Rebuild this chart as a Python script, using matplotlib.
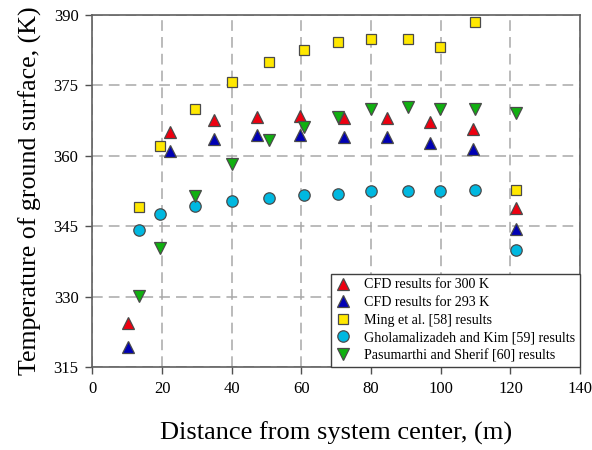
import matplotlib
matplotlib.use("Agg")
import matplotlib.pyplot as plt

# Data
x_cfd = [10.1, 22.4, 34.8, 47.3, 59.6, 72.2, 84.5, 97.0, 109.3, 121.6]
y_cfd300 = [324.4, 365.1, 367.6, 368.3, 368.5, 368.0, 368.1, 367.1, 365.6, 348.9]
y_cfd293 = [319.2, 361.0, 363.5, 364.4, 364.4, 364.1, 364.1, 362.8, 361.4, 344.5]

x_ref = [13.4, 19.4, 29.4, 40.0, 50.8, 60.7, 70.6, 79.9, 90.7, 99.9, 109.9, 121.6]
y_ming = [349.0, 362.1, 370.0, 375.7, 379.9, 382.6, 384.2, 384.9, 384.9, 383.1, 388.4, 352.7]
y_ghol = [344.3, 347.7, 349.3, 350.4, 351.1, 351.6, 351.9, 352.5, 352.5, 352.5, 352.8, 339.9]
y_pasu = [330.2, 340.3, 351.5, 358.3, 363.3, 366.2, 368.3, 369.9, 370.3, 370.0, 370.0, 369.1]

labels = ["CFD results for 300 K", "CFD results for 293 K", "Ming et al. [58] results",
          "Gholamalizadeh and Kim [59] results", "Pasumarthi and Sherif [60] results"]
xticks = [0, 20, 40, 60, 80, 100, 120, 140]
yticks = [315, 330, 345, 360, 375, 390]

plt.rcParams['font.family'] = ['Liberation Serif', 'DejaVu Serif']

fig = plt.figure(figsize=(5.92, 4.5), dpi=100)
ax = fig.add_axes([0.156, 0.184, 0.824, 0.783])

ec = '#4a4a4a'
kw = dict(linestyle='none', markeredgecolor=ec, markeredgewidth=0.9, zorder=3)
ax.plot(x_cfd, y_cfd300, marker='^', markersize=9, color='#ee0010', label=labels[0], **kw)
ax.plot(x_cfd, y_cfd293, marker='^', markersize=9, color='#0000b4', label=labels[1], **kw)
ax.plot(x_ref, y_ming, marker='s', markersize=7.5, color='#ffe800', label=labels[2], **kw)
ax.plot(x_ref, y_ghol, marker='o', markersize=8.2, color='#00b8e0', label=labels[3], **kw)
ax.plot(x_ref, y_pasu, marker='v', markersize=9, color='#10b010', label=labels[4], **kw)

ax.set_xlim(0, 140)
ax.set_ylim(315, 390)
ax.set_xticks(xticks)
ax.set_yticks(yticks)
ax.tick_params(axis='both', direction='out', length=5, width=1, color='#505050',
               labelsize=12, pad=5)
ax.grid(True, linestyle=(0, (7, 4)), color='#a8a8a8', linewidth=1.1, zorder=0)
ax.set_axisbelow(True)
for s in ax.spines.values():
    s.set_color('#606060')
    s.set_linewidth(1.2)

ax.set_xlabel("Distance from system center, (m)", fontsize=19, labelpad=18)
ax.set_ylabel("Temperature of ground surface, (K)", fontsize=18.6, labelpad=8)

leg = ax.legend(loc='lower right', fontsize=10.1, frameon=True, fancybox=False,
                borderaxespad=0, handlelength=1.0, handletextpad=1.0,
                labelspacing=0.33, borderpad=0.35, framealpha=1)
leg.get_frame().set_edgecolor('#404040')
leg.get_frame().set_linewidth(1.0)

fig.savefig("out.png", dpi=100)
